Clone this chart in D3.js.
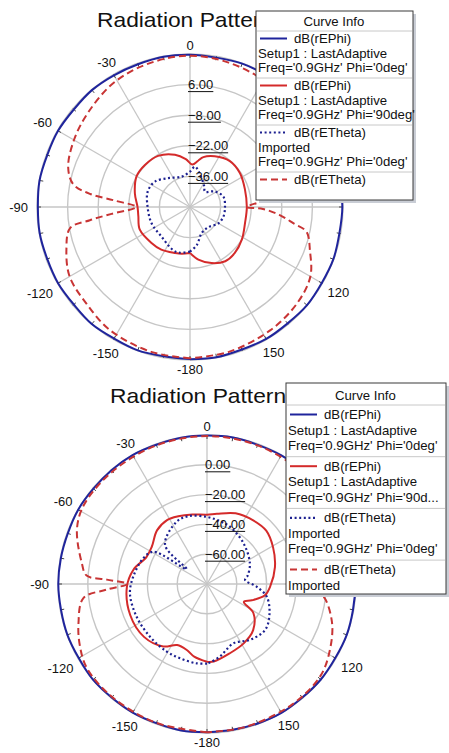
<!DOCTYPE html>
<html>
<head>
<meta charset="utf-8">
<script src="https://cdn.jsdelivr.net/npm/d3@7"></script>
<style>
  body { margin: 0; background: #fff; }
  svg { display: block; }
  text { font-family: "Liberation Sans", Arial, sans-serif; fill: #111; }
</style>
</head>
<body>
<svg width="449" height="753"></svg>
<script>
// ---- data: [angle in degrees, value in dB] ----
// top chart
const topEPhi0 = [[-180,19.6],[-170,19.3],[-160,19.8],[-150,19.5],[-140,19.9],[-130,19.4],[-120,19.7],[-110,19.5],[-100,19.8],[-90,19.6],[-80,19.9],[-70,19.5],[-60,19.7],[-50,19.4],[-40,19.8],[-30,19.6],[-20,19.5],[-10,19.8],[0,19.7],[10,19.4],[20,19.8],[30,19.6],[40,19.5],[50,19.8],[60,19.6],[70,19.9],[80,19.5],[90,19.7],[100,19.4],[110,19.8],[120,19.6],[130,19.9],[140,19.5],[150,19.7],[160,19.4],[170,19.8],[180,19.6]];
const topEPhi90 = [[-180,-29],[-170,-28.3],[-162,-27.9],[-146,-26.5],[-133,-25.9],[-114,-24.8],[-100,-26],[-90,-26],[-76,-24],[-60,-21.8],[-47,-21.8],[-32,-22.4],[-16,-25.1],[-5,-28],[3,-30.5],[10,-28.5],[15,-26.4],[26,-24.2],[41,-22.2],[56,-22.4],[72,-23.6],[90,-24],[106,-23.8],[122,-22],[136,-20.6],[147,-20.4],[159,-22.5],[171,-25.6],[180,-29]];
const topETheta0 = [[-180,-29.6],[-166,-28.5],[-157,-29],[-136,-31.2],[-113,-30.9],[-90,-30.6],[-70,-29.4],[-54,-30.2],[-37,-33.5],[-15,-35.6],[0,-33.8],[7,-31.4],[16,-34],[35,-38.6],[44,-40.2],[58,-36.6],[73,-34],[92,-34],[106,-34.1],[120,-35],[138,-37.5],[156,-36.9],[170,-32.3],[180,-29.6]];
const topETheta = [[-180,19.2],[-165,18.6],[-147,17.2],[-133,14.8],[-120,13.6],[-109,9.8],[-100,5.7],[-97.5,-3.8],[-95,-14],[-90,-25.3],[-85,-15],[-82.5,-3.8],[-79,4.4],[-72,8.6],[-60,11.3],[-47,13.6],[-31,16.8],[-15,18.4],[0,19.2],[15,18.4],[31,16.8],[47,13.6],[60,11.3],[72,8.6],[79,4.4],[82.5,-3.8],[85,-15],[90,-24],[91.5,-16.6],[95,-9],[99,-2],[102,4.5],[110,8.4],[120,13.6],[132,15.9],[147,17.3],[165,18.6],[180,19.2]];
const topRings = [6, -8, -22, -36];

// bottom chart
const botEPhi0 = [[-180,19.5],[-170,19.8],[-160,19.4],[-150,19.7],[-140,19.5],[-130,19.9],[-120,19.4],[-110,19.7],[-100,19.5],[-90,19.8],[-80,19.6],[-70,19.4],[-60,19.8],[-50,19.5],[-40,19.7],[-30,19.9],[-20,19.5],[-10,19.7],[0,19.6],[10,19.8],[20,19.4],[30,19.7],[40,19.5],[50,19.8],[60,19.6],[70,19.4],[80,19.8],[90,19.6],[100,19.5],[110,19.8],[120,19.4],[130,19.7],[140,19.5],[150,19.9],[160,19.6],[170,19.4],[180,19.5]];
const botEPhi90 = [[-180,-27.8],[-170,-30.5],[-163,-33.7],[-154,-34.4],[-145,-28.8],[-130,-24.8],[-112,-24.4],[-92,-26.2],[-79,-29.7],[-66,-35.5],[-56,-35.3],[-43,-30.8],[-32,-29.4],[-23,-30.6],[-12,-32.3],[0,-33.5],[8,-32.4],[22,-28.8],[36,-27.2],[48,-26.5],[61,-29.3],[76,-33],[92,-37.5],[101,-40.4],[110,-48],[116,-52.5],[122,-43.3],[135,-36.2],[148,-33.2],[162,-31],[175,-27.8],[180,-27.8]];
const botETheta0 = [[-180,-26.6],[-172,-26.3],[-160,-27],[-149,-27.2],[-133,-27.9],[-115,-27.9],[-97,-27.9],[-84,-30.3],[-68,-33.9],[-59,-38],[-54,-63],[-47,-41.5],[-26,-33.5],[-15,-32.8],[0,-35],[12,-37],[22,-38.6],[42,-43.3],[64,-48],[78,-52],[84,-54.3],[93,-46.7],[102,-39],[115,-33.7],[128,-30.3],[142,-32.6],[156,-36.4],[170,-30.5],[178,-27.2],[180,-26.6]];
const botETheta = [[-180,19.5],[-160,19.2],[-140,19],[-125,18.4],[-116,14.9],[-107,10.2],[-96.5,3.5],[-93.2,-12.6],[-90,-26.5],[-87.5,-12.7],[-86,1],[-80.5,5.2],[-67,14.8],[-57,18.2],[-40,18.6],[-20,19],[0,19.3],[20,19],[40,18.6],[57,18.2],[67,14.8],[80.5,5.2],[86,1],[87.5,-12.7],[90,-26.5],[93,-10],[96,-1.5],[107,7.7],[118,13.5],[129,18],[145,19],[165,19.3],[180,19.5]];
const botRings = [0, -20, -40, -60];

const angleLabels = [0, 30, 60, 90, 120, 150, -180, -150, -120, -90, -60, -30];

const topLegendText = [
  ["dB(rEPhi)", "Setup1 : LastAdaptive", "Freq='0.9GHz' Phi='0deg'"],
  ["dB(rEPhi)", "Setup1 : LastAdaptive", "Freq='0.9GHz' Phi='90deg'"],
  ["dB(rETheta)", "Imported", "Freq='0.9GHz' Phi='0deg'"],
  ["dB(rETheta)"]
];
const botLegendText = [
  ["dB(rEPhi)", "Setup1 : LastAdaptive", "Freq='0.9GHz' Phi='0deg'"],
  ["dB(rEPhi)", "Setup1 : LastAdaptive", "Freq='0.9GHz' Phi='90d..."],
  ["dB(rETheta)", "Imported", "Freq='0.9GHz' Phi='0deg'"],
  ["dB(rETheta)", "Imported"]
];

// line styles, in legend order
const styles = [
  { color: "#1f249c", width: 2, dash: null },
  { color: "#d42a2a", width: 2, dash: null },
  { color: "#1c2090", width: 2.2, dash: "2,2.6" },
  { color: "#c83434", width: 2, dash: "7,4" }
];

const svg = d3.select("svg");
const rad = d => d * Math.PI / 180;

function drawPlot(cfg) {
  const g = svg.append("g").attr("transform", `translate(${cfg.cx},${cfg.cy})`);
  const r = d3.scaleLinear().domain(cfg.domain).range([0, cfg.R]).clamp(true);
  const L = cfg.legend;

  // title (sits under the legend box)
  svg.append("text")
    .attr("transform", `translate(${cfg.title[0]},${cfg.title[1]}) scale(1.14,1)`)
    .style("font-size", "20px")
    .text("Radiation Pattern");

  // grid rings
  g.selectAll(".ring").data(cfg.rings.concat([cfg.domain[1]]))
    .enter().append("circle")
    .attr("r", d => r(d))
    .attr("fill", "none")
    .attr("stroke", "#c6c6c6")
    .attr("stroke-width", 1.4);

  // spokes every 30 deg
  g.selectAll(".spoke").data(d3.range(0, 360, 30))
    .enter().append("line")
    .attr("x2", d => cfg.R * Math.sin(rad(d)))
    .attr("y2", d => -cfg.R * Math.cos(rad(d)))
    .attr("stroke", "#c6c6c6")
    .attr("stroke-width", 1.3);

  // small ticks round the rim
  g.selectAll(".tick").data(d3.range(0, 360, 10))
    .enter().append("line")
    .attr("x1", d => (cfg.R - 4) * Math.sin(rad(d)))
    .attr("y1", d => -(cfg.R - 4) * Math.cos(rad(d)))
    .attr("x2", d => cfg.R * Math.sin(rad(d)))
    .attr("y2", d => -cfg.R * Math.cos(rad(d)))
    .attr("stroke", "#444")
    .attr("stroke-width", 1);

  // angle labels (the ones under the legend box are not shown)
  g.selectAll(".alab").data(angleLabels)
    .enter().append("text")
    .style("font-size", "13px")
    .attr("text-anchor", "middle")
    .attr("dy", "0.36em")
    .text(d => d)
    .each(function (d) {
      const hw = this.getComputedTextLength() / 2;
      const rr = cfg.R + 9 + hw * Math.abs(Math.sin(rad(d)));
      const x = rr * Math.sin(rad(d)), y = -rr * Math.cos(rad(d));
      const ax = cfg.cx + x, ay = cfg.cy + y;
      if (ax + hw > L.x && ax - hw < L.x + L.w + 4 && ay + 6 > L.y && ay - 6 < L.y + L.h + 4) {
        d3.select(this).remove();
        return;
      }
      d3.select(this).attr("x", x).attr("y", y);
    });

  // curves
  const line = d3.lineRadial()
    .angle(d => rad(d[0]))
    .radius(d => r(d[1]))
    .curve(d3.curveCatmullRom.alpha(0.5));

  cfg.series.forEach((s, i) => {
    g.append("path")
      .attr("d", line(s))
      .attr("fill", "none")
      .attr("stroke", styles[i].color)
      .attr("stroke-width", styles[i].width)
      .attr("stroke-dasharray", styles[i].dash);
  });

  // ring labels, underlined
  const fmt = d3.format(".2f");
  cfg.rings.forEach(v => {
    const y = -r(v) + 4.5;
    const t = g.append("text")
      .attr("x", -2).attr("y", y)
      .style("font-size", "13px")
      .text(fmt(v));
    const w = t.node().getComputedTextLength();
    g.append("line")
      .attr("x1", -2).attr("x2", -2 + w)
      .attr("y1", y + 2.5).attr("y2", y + 2.5)
      .attr("stroke", "#111").attr("stroke-width", 1);
  });

  drawLegend(L, cfg.legendText);
}

function legendText(sel, x, y, txt) {
  return sel.append("text")
    .attr("transform", `translate(${x},${y}) scale(1.1,1)`)
    .style("font-size", "12px")
    .text(txt);
}

function drawLegend(L, rows) {
  const lg = svg.append("g");
  lg.append("rect")
    .attr("x", L.x + 3).attr("y", L.y + 3)
    .attr("width", L.w).attr("height", L.h)
    .attr("fill", "#c9cdd5");
  lg.append("rect")
    .attr("x", L.x).attr("y", L.y)
    .attr("width", L.w).attr("height", L.h)
    .attr("fill", "#fff")
    .attr("stroke", "#3a3a3a").attr("stroke-width", 1);
  legendText(lg, L.x + L.w / 2 - 31, L.y + L.head - 5, "Curve Info");

  rows.forEach((lines, i) => {
    const top = L.y + L.head + i * L.rowH;
    lg.append("line")
      .attr("x1", L.x + 1).attr("x2", L.x + L.w - 1)
      .attr("y1", top).attr("y2", top)
      .attr("stroke", "#c8c8c8").attr("stroke-width", 1);
    const b0 = top + L.first;
    lg.append("line")
      .attr("x1", L.x + 4).attr("x2", L.x + 31)
      .attr("y1", b0 - 4.5).attr("y2", b0 - 4.5)
      .attr("stroke", styles[i].color)
      .attr("stroke-width", styles[i].width)
      .attr("stroke-dasharray", styles[i].dash);
    lines.forEach((txt, j) => {
      legendText(lg, j === 0 ? L.x + 38 : L.x + 2, b0 + j * L.gap, txt);
    });
  });
}

drawPlot({
  cx: 190, cy: 207, R: 153, domain: [-50, 20], rings: topRings,
  title: [97, 27],
  series: [topEPhi0, topEPhi90, topETheta0, topETheta],
  legend: { x: 256, y: 11, w: 157, h: 189, head: 20, rowH: 47, first: 12, gap: 14.5 },
  legendText: topLegendText
});

drawPlot({
  cx: 207, cy: 584, R: 149, domain: [-80, 20], rings: botRings,
  title: [110, 403],
  series: [botEPhi0, botEPhi90, botETheta0, botETheta],
  legend: { x: 286, y: 383, w: 160, h: 211, head: 22, rowH: 51.7, first: 14, gap: 15.5 },
  legendText: botLegendText
});
</script>
</body>
</html>
